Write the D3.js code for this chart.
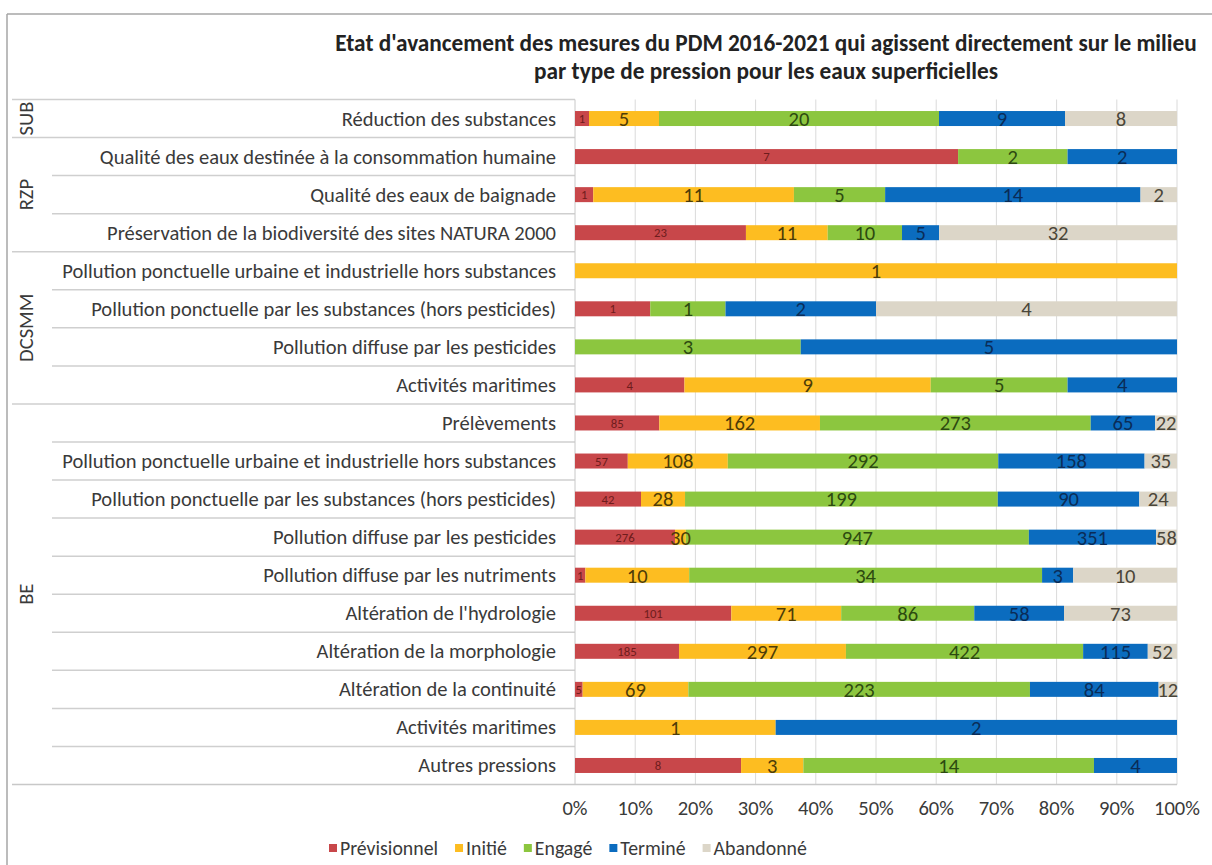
<!DOCTYPE html>
<html><head><meta charset="utf-8">
<script src="https://cdn.jsdelivr.net/npm/d3@7"></script>
<style>
html,body{margin:0;padding:0;background:#fff;}
svg{display:block;font-family:Carlito, Lato, "Open Sans", sans-serif;}
</style>
</head><body>
<svg id="chart" width="1212" height="865"></svg>
<script>
// ---------- data ----------
const title = ["Etat d'avancement des mesures du PDM 2016-2021 qui agissent directement sur le milieu",
               "par type de pression pour les eaux superficielles"];
const series = ["Prévisionnel","Initié","Engagé","Terminé","Abandonné"];
const groups = ["SUB","RZP","DCSMM","BE"];
const categories = [
  "Réduction des substances",
  "Qualité des eaux destinée à la consommation humaine",
  "Qualité des eaux de baignade",
  "Préservation de la biodiversité des sites NATURA 2000",
  "Pollution ponctuelle urbaine et industrielle hors substances",
  "Pollution ponctuelle par les substances (hors pesticides)",
  "Pollution diffuse par les pesticides",
  "Activités maritimes",
  "Prélèvements",
  "Pollution ponctuelle urbaine et industrielle hors substances",
  "Pollution ponctuelle par les substances (hors pesticides)",
  "Pollution diffuse par les pesticides",
  "Pollution diffuse par les nutriments",
  "Altération de l'hydrologie",
  "Altération de la morphologie",
  "Altération de la continuité",
  "Activités maritimes",
  "Autres pressions"
];
const categoryGroup = ["SUB","RZP","RZP","RZP","DCSMM","DCSMM","DCSMM","DCSMM",
  "BE","BE","BE","BE","BE","BE","BE","BE","BE","BE"];
const previsionnel = [1,7,1,23,0,1,0,4,85,57,42,276,1,101,185,5,0,8];
const initie       = [5,0,11,11,1,0,0,9,162,108,28,30,10,71,297,69,1,3];
const engage       = [20,2,5,10,0,1,3,5,273,292,199,947,34,86,422,223,0,14];
const termine      = [9,2,14,5,0,2,5,4,65,158,90,351,3,58,115,84,2,4];
const abandonne    = [8,0,2,32,0,4,0,0,22,35,24,58,10,73,52,12,0,0];
const tickValues = [0,0.1,0.2,0.3,0.4,0.5,0.6,0.7,0.8,0.9,1];

// ---------- styles / layout ----------
const colors = ["#c8474a","#fdbd21","#8cc63f","#0b6cbf","#dcd6c8"];
const labelColors = ["#6e1c1c","#4d3c08","#2c4a10","#0a2c58","#4a4538"];
const gridColor = "#dadada";
const sepColor = "#cfcfcf";
const textColor = "#3a3a3a";

const svg = d3.select("#chart");
const X0 = 575, X1 = 1177, Y0 = 99.5, Y1 = 784.5;

// frame
svg.append("line").attr("x1",7).attr("x2",1212).attr("y1",14).attr("y2",14).attr("stroke","#a6a6a6").attr("stroke-width",1.5);
svg.append("line").attr("x1",7).attr("x2",7).attr("y1",14).attr("y2",865).attr("stroke","#a6a6a6").attr("stroke-width",1.5);

const rows = categories.map((c,i)=>({key:i, name:c, group:categoryGroup[i],
  values:[previsionnel[i],initie[i],engage[i],termine[i],abandonne[i]]}));

const x = d3.scaleLinear().domain([0,1]).range([X0,X1]);
const y = d3.scaleBand().domain(rows.map(r=>r.key)).range([Y0,Y1]).paddingInner(0).paddingOuter(0);
const barH = 15;

// category labels first to determine base font size
const catG = svg.append("g").attr("text-anchor","end").attr("fill",textColor);
catG.selectAll("text").data(rows).join("text")
  .attr("x",556).attr("y",d=>y(d.key)+y.bandwidth()/2+5)
  .attr("font-size",15).text(d=>d.name);
let maxW=0; catG.selectAll("text").each(function(){maxW=Math.max(maxW,this.getComputedTextLength());});
const fs = 15*494/maxW;
catG.selectAll("text").attr("font-size",fs).attr("y",d=>y(d.key)+y.bandwidth()/2+fs*0.34);

// gridlines
svg.append("g").selectAll("line").data(tickValues.slice(1)).join("line")
  .attr("x1",d=>x(d)).attr("x2",d=>x(d)).attr("y1",Y0).attr("y2",Y1)
  .attr("stroke",gridColor).attr("stroke-width",1);

// separators
const sepG = svg.append("g");
rows.forEach((r,i)=>{
  if(i===rows.length-1) return;
  const yb = y(r.key)+y.bandwidth();
  const isGroupEnd = rows[i+1].group!==r.group;
  sepG.append("line").attr("x1", isGroupEnd?12:52).attr("x2",X0).attr("y1",yb).attr("y2",yb)
    .attr("stroke",sepColor).attr("stroke-width",1.5);
});
sepG.append("line").attr("x1",12).attr("x2",X0).attr("y1",Y0).attr("y2",Y0).attr("stroke",sepColor).attr("stroke-width",1.5);
sepG.append("line").attr("x1",12).attr("x2",X1).attr("y1",Y1).attr("y2",Y1).attr("stroke","#c8c8c8").attr("stroke-width",1.5);
sepG.append("line").attr("x1",X0).attr("x2",X0).attr("y1",Y0).attr("y2",Y1).attr("stroke","#c8c8c8").attr("stroke-width",1);

// stacked bars
const table = rows.map(r=>{const o={key:r.key}; series.forEach((s,j)=>o[s]=r.values[j]); return o;});
const stack = d3.stack().keys(series).offset(d3.stackOffsetExpand)(table);
const barsG = svg.append("g");
stack.forEach((layer,j)=>{
  barsG.append("g").attr("fill",colors[j]).selectAll("rect").data(layer).join("rect")
    .attr("x",d=>x(d[0])).attr("width",d=>Math.max(0,x(d[1])-x(d[0])))
    .attr("y",d=>y(d.data.key)+y.bandwidth()/2-barH/2).attr("height",barH);
});
// segment labels
const labG = svg.append("g").attr("text-anchor","middle");
stack.forEach((layer,j)=>{
  const lfs = j===0 ? fs*0.62 : fs;
  labG.selectAll(null).data(layer.filter(d=>d.data[series[j]]>0)).join("text")
    .attr("x",d=>x((d[0]+d[1])/2))
    .attr("y",d=>y(d.data.key)+y.bandwidth()/2+lfs*0.36)
    .attr("font-size", lfs)
    .attr("fill",labelColors[j])
    .text(d=>d.data[series[j]]);
});

// group labels
groups.forEach(g=>{
  const idx = rows.filter(r=>r.group===g).map(r=>r.key);
  const yc = (y(idx[0]) + y(idx[idx.length-1]) + y.bandwidth())/2;
  svg.append("text").attr("transform",`translate(${26+fs*0.36},${yc}) rotate(-90)`)
    .attr("text-anchor","middle").attr("font-size",fs).attr("fill",textColor).text(g);
});

// tick labels
svg.append("g").attr("text-anchor","middle").attr("fill",textColor).selectAll("text")
  .data(tickValues).join("text").attr("x",d=>x(d)).attr("y",808+fs*0.34).attr("font-size",fs)
  .text(d=>d3.format(".0%")(d));

// title
const tG = svg.append("g").attr("text-anchor","middle").attr("font-weight","bold").attr("fill","#222");
const t1 = tG.append("text").attr("x",766).attr("y",51).attr("font-size",17).text(title[0]);
const w1 = t1.node().getComputedTextLength();
const tfs = 17*862/w1;
t1.attr("font-size",tfs);
tG.append("text").attr("x",766).attr("y",79).attr("font-size",tfs).text(title[1]);

// legend: scale font so total text width matches, then place sequentially
const legG = svg.append("g");
const legTexts = series.map(s=>legG.append("text").attr("font-size",fs).attr("fill",textColor).text(s));
const totalW = d3.sum(legTexts, t=>t.node().getComputedTextLength());
const lfsz = fs*355/totalW;
let lx = 329;
series.forEach((s,j)=>{
  legG.append("rect").attr("x",lx).attr("y",844).attr("width",8).attr("height",8).attr("fill",colors[j]);
  const t = legTexts[j].attr("font-size",lfsz).attr("x",lx+11).attr("y",848+lfsz*0.34);
  lx += 11 + t.node().getComputedTextLength() + 17;
});
</script>
</body></html>
